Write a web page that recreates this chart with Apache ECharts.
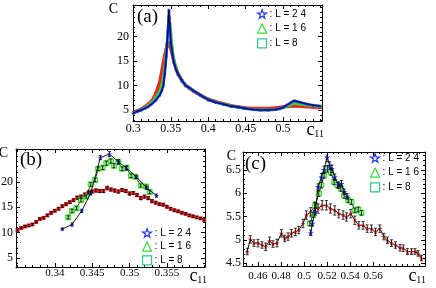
<!DOCTYPE html>
<html><head><meta charset="utf-8">
<script src="https://cdn.jsdelivr.net/npm/echarts@6/dist/echarts.min.js"></script>
<style>html,body{margin:0;padding:0;background:#fff}#c{width:436px;height:288px}</style>
</head><body><div id="c"></div>
<script>
// ---------- Panel (a) ----------
const A_X = [0.300,0.305,0.310,0.315,0.320,0.325,0.330,0.335,0.338,0.340,0.342,0.344,0.345,0.346,0.347,0.3475,0.348,0.349,0.350,0.352,0.354,0.357,0.360,0.365,0.370,0.375,0.380,0.390,0.400,0.410,0.420,0.430,0.440,0.450,0.460,0.470,0.480,0.490,0.495,0.500,0.505,0.510,0.515,0.520,0.525,0.530,0.540,0.550];
const A_C24 = [4.4,4.7,5.0,5.3,5.7,6.3,7.0,8.0,9.0,10.0,12.5,16.0,18.5,21.0,24.0,25.5,24.0,21.5,19.0,16.5,14.8,13.3,12.3,11.0,10.0,9.5,9.0,8.0,7.1,6.6,6.2,5.8,5.6,5.3,5.1,5.0,5.0,5.1,5.3,5.5,6.0,6.5,6.9,6.7,6.5,6.3,6.0,5.8];
const A_C16 = [4.4,4.7,5.0,5.4,5.9,6.6,7.5,8.8,10.0,11.5,13.8,16.8,18.5,20.3,22.5,23.3,23.6,22.5,20.5,17.5,15.2,13.4,12.3,11.0,10.0,9.5,9.0,8.0,7.1,6.6,6.2,5.8,5.6,5.3,5.1,5.0,5.0,5.1,5.25,5.5,5.8,6.1,6.4,6.3,6.2,6.1,5.9,5.7];
const A_C8 = [4.5,4.8,5.1,5.6,6.2,6.9,8.3,10.5,12.8,14.5,16.2,17.5,18.0,18.4,18.7,18.7,18.5,18.2,17.8,16.5,15.0,13.5,12.3,11.0,10.0,9.5,8.9,8.0,7.2,6.7,6.3,5.9,5.6,5.4,5.3,5.3,5.3,5.4,5.5,5.6,5.7,5.8,5.85,5.8,5.75,5.7,5.6,5.5];
const A_XTICKS = [0.3,0.35,0.4,0.45,0.5];
const A_XLABELS = ['0.3','0.35','0.4','0.45','0.5'];
const A_YTICKS = [5,10,15,20];
const A_YLABELS = ['5','10','15','20'];

// ---------- Panel (b) ----------
const B_X8 = [0.3350,0.3355,0.3360,0.3365,0.3370,0.3375,0.3380,0.3385,0.3390,0.3395,0.3400,0.3405,0.3410,0.3415,0.3420,0.3425,0.3430,0.3435,0.3440,0.3445,0.3450,0.3455,0.3460,0.3465,0.3470,0.3475,0.3480,0.3485,0.3490,0.3495,0.3500,0.3505,0.3510,0.3515,0.3520,0.3525,0.3530,0.3535,0.3540,0.3545,0.3550,0.3555,0.3560,0.3565,0.3570,0.3575,0.3580,0.3585,0.3590,0.3595,0.3600];
const B_C8 = [10.5,10.9,11.2,11.4,11.6,12.1,12.7,12.9,13.4,13.9,14.3,14.7,15.2,15.6,16.0,16.4,16.9,17.1,17.5,17.9,18.1,18.3,18.2,18.2,18.8,18.5,18.3,18.1,18.4,18.2,17.7,17.8,17.4,16.8,17.1,16.8,16.2,15.9,15.6,15.5,15.1,14.7,14.4,14.2,13.9,13.7,13.4,13.2,13.0,12.8,12.5];
const B_E8 = [0.2,0.2,0.2,0.2,0.2,0.2,0.2,0.2,0.2,0.25,0.25,0.25,0.25,0.25,0.25,0.25,0.3,0.3,0.3,0.3,0.3,0.3,0.3,0.3,0.35,0.3,0.3,0.3,0.3,0.3,0.3,0.3,0.3,0.3,0.3,0.3,0.3,0.25,0.25,0.25,0.25,0.25,0.25,0.2,0.2,0.2,0.2,0.2,0.2,0.2,0.2];
const B_X16 = [0.3418,0.3423,0.3429,0.3435,0.3442,0.3448,0.3454,0.3458,0.3464,0.3469,0.3475,0.3479,0.3485,0.3490,0.3496,0.3502,0.3508,0.3515,0.3522,0.3527];
const B_C16 = [13.0,14.3,14.8,16.4,17.1,19.5,20.4,22.6,22.8,23.7,24.1,23.2,23.9,22.6,22.8,21.2,21.0,19.3,19.1,18.0];
const B_E16 = [0.3,0.3,0.3,0.3,0.3,0.35,0.35,0.35,0.35,0.4,0.4,0.4,0.4,0.35,0.35,0.35,0.3,0.3,0.3,0.3];
const B_X24 = [0.3410,0.3423,0.3436,0.3448,0.3461,0.3473,0.3485,0.3496,0.3509,0.3523,0.3536];
const B_C24 = [10.7,11.6,14.3,17.8,24.8,25.5,24.0,22.7,21.0,18.8,17.3];
const B_E24 = [0.2,0.3,0.3,0.4,0.4,0.5,0.4,0.4,0.3,0.3,0.3];
const B_XTICKS = [0.34,0.345,0.35,0.355];
const B_XLABELS = ['0.34','0.345','0.35','0.355'];
const B_YTICKS = [5,10,15,20];
const B_YLABELS = ['5','10','15','20'];

// ---------- Panel (c) ----------
const C_X8 = [0.4507,0.4533,0.4565,0.4600,0.4635,0.4667,0.4701,0.4730,0.4765,0.4803,0.4832,0.4861,0.4890,0.4925,0.4954,0.4991,0.5020,0.5058,0.5093,0.5122,0.5157,0.5194,0.5229,0.5267,0.5302,0.5339,0.5368,0.5406,0.5441,0.5476,0.5513,0.5548,0.5585,0.5620,0.5658,0.5693,0.5724,0.5759,0.5794,0.5833,0.5861,0.5898,0.5933,0.5963,0.5990,0.6019];
const C_C8 = [4.75,5.01,4.93,4.93,4.89,4.85,4.98,4.91,4.93,5.14,5.03,5.07,5.14,5.17,5.21,5.35,5.53,5.60,5.72,5.67,5.74,5.74,5.67,5.63,5.56,5.53,5.49,5.56,5.42,5.31,5.31,5.24,5.24,5.17,5.24,5.07,4.99,4.93,4.89,4.83,4.82,4.75,4.75,4.75,4.71,4.61];
const C_E8 = [0.07,0.08,0.07,0.08,0.07,0.08,0.08,0.07,0.08,0.08,0.07,0.08,0.08,0.08,0.08,0.09,0.09,0.09,0.09,0.1,0.1,0.1,0.1,0.1,0.09,0.09,0.09,0.09,0.09,0.08,0.08,0.08,0.08,0.08,0.08,0.07,0.07,0.07,0.07,0.07,0.07,0.06,0.06,0.06,0.06,0.06];
const C_X16 = [0.5050,0.5078,0.5098,0.5128,0.5150,0.5174,0.5203,0.5232,0.5261,0.5290,0.5319,0.5348,0.5383,0.5411,0.5441,0.5470,0.5498];
const C_C16 = [5.35,5.53,5.74,5.99,6.17,6.38,6.52,6.45,6.24,6.17,6.10,5.95,5.85,5.81,5.63,5.65,5.58];
const C_E16 = [0.05,0.05,0.05,0.06,0.06,0.06,0.07,0.07,0.06,0.06,0.06,0.06,0.05,0.05,0.05,0.05,0.05];
const C_X24 = [0.5058,0.5072,0.5098,0.5122,0.5150,0.5174,0.5200,0.5223,0.5243,0.5267,0.5302,0.5324,0.5348,0.5374];
const C_C24 = [5.15,5.35,5.60,6.13,6.34,6.50,6.77,6.59,6.52,6.34,6.17,6.20,6.03,5.93];
const C_E24 = [0.06,0.06,0.07,0.07,0.08,0.08,0.1,0.08,0.08,0.07,0.07,0.07,0.06,0.06];
const C_XTICKS = [0.46,0.48,0.5,0.52,0.54,0.56];
const C_XLABELS = ['0.46','0.48','0.5','0.52','0.54','0.56'];
const C_YTICKS = [4.5,5,5.5,6,6.5];
const C_YLABELS = ['4.5','5','5.5','6','6.5'];

const LEGEND_NAMES = ['L24','L16','L8'];
const LEGEND_TEXT = {L24:': L = 2 4', L16:': L = 1 6', L8:': L = 8'};

// ---------- styling ----------
const SERIF = 'Liberation Serif';
const SANS = 'Liberation Sans';
const RED = '#ee2222', GREEN = '#33dd22', BLUE = '#1f2fff';
const STAR = 'path://M50,0L61,35L98,35L68,57L79,91L50,70L21,91L32,57L2,35L39,35Z';

function zip(xs, ys) { return xs.map((x, i) => [x, ys[i]]); }
function zip3(xs, ys, es) { return xs.map((x, i) => [x, ys[i], es[i]]); }
function steps(a, b, s) { const r = []; for (let v = a; v <= b + s * 1e-6; v += s) r.push(+v.toFixed(6)); return r; }
function fmt(ticks, labels) { return v => { const i = ticks.findIndex(t => Math.abs(t - v) < 1e-9); return i >= 0 ? labels[i] : ''; }; }

function makeAxes(dim, g, min, max, ticks, labels, minors, o) {
  const base = {type: 'value', gridIndex: g, min: min, max: max, splitLine: {show: false}, scale: true};
  const line = {show: true, onZero: false, lineStyle: {color: '#000', width: 1}};
  const tick = (vals, len) => ({show: true, inside: true, length: len, customValues: vals, lineStyle: {color: '#000', width: 1}});
  const p1 = dim === 'x' ? 'bottom' : 'left', p2 = dim === 'x' ? 'top' : 'right';
  const main = Object.assign({}, base, {
    position: p1, axisLine: line, axisTick: tick(ticks, 4),
    axisLabel: {show: true, customValues: ticks, formatter: fmt(ticks, labels), margin: o.margin,
      fontFamily: SERIF, fontSize: o.fontSize, color: '#000'}
  });
  if (dim === 'x') {
    main.name = '{c|c}{s|11}';
    main.nameLocation = 'end';
    main.nameGap = o.nameGap;
    main.nameTextStyle = {align: 'right', verticalAlign: 'top', padding: o.namePad, color: '#000',
      rich: {c: {fontFamily: SERIF, fontSize: 18, lineHeight: 16, verticalAlign: 'top', color: '#000'},
             s: {fontFamily: SERIF, fontSize: 10, lineHeight: 18, verticalAlign: 'bottom', color: '#000'}}};
  } else {
    main.name = 'C';
    main.nameLocation = 'end';
    main.nameGap = o.nameGap;
    main.nameTextStyle = {fontFamily: SERIF, fontSize: 14, color: '#000', align: 'right', verticalAlign: 'top', padding: o.namePad};
  }
  const opp = Object.assign({}, base, {position: p2, axisLine: line, axisTick: tick(ticks, 4), axisLabel: {show: false}});
  const m1 = Object.assign({}, base, {position: p1, axisLine: {show: false}, axisTick: tick(minors, 2), axisLabel: {show: false}});
  const m2 = Object.assign({}, base, {position: p2, axisLine: {show: false}, axisTick: tick(minors, 2), axisLabel: {show: false}});
  return [main, opp, m1, m2];
}

function errRender(params, api) {
  const x = api.value(0), y = api.value(1), e = api.value(2);
  const lo = api.coord([x, y - e]), hi = api.coord([x, y + e]);
  const w = 1.5, st = {stroke: '#000', lineWidth: 0.8};
  return {type: 'group', children: [
    {type: 'line', shape: {x1: lo[0], y1: lo[1], x2: hi[0], y2: hi[1]}, style: st},
    {type: 'line', shape: {x1: lo[0] - w, y1: lo[1], x2: lo[0] + w, y2: lo[1]}, style: st},
    {type: 'line', shape: {x1: hi[0] - w, y1: hi[1], x2: hi[0] + w, y2: hi[1]}, style: st}
  ]};
}

function errSeries(g, xs, ys, es) {
  return {type: 'custom', name: 'err', xAxisIndex: 4 * g, yAxisIndex: 4 * g, renderItem: errRender,
    data: zip3(xs, ys, es), encode: {x: 0, y: 1}, z: 5, clip: true, silent: true};
}

function legendFor(left, top, gap) {
  return {
    left: left, top: top, orient: 'vertical', itemWidth: 9, itemHeight: 9, itemGap: gap, selectedMode: false,
    padding: 0, textStyle: {fontFamily: SANS, fontSize: 10, color: '#000', padding: [0, 0, 0, -2]},
    formatter: n => LEGEND_TEXT[n],
    data: [
      {name: 'L24', icon: STAR, itemStyle: {color: 'rgba(0,0,0,0)', borderColor: '#2233ee', borderWidth: 1.2}},
      {name: 'L16', icon: 'triangle', itemStyle: {color: 'rgba(0,0,0,0)', borderColor: '#33dd33', borderWidth: 1.2}},
      {name: 'L8', icon: 'rect', itemStyle: {color: 'rgba(0,0,0,0)', borderColor: '#33c39b', borderWidth: 1.2}}
    ]
  };
}

const xAxes = [].concat(
  makeAxes('x', 0, 0.2995, 0.552, A_XTICKS, A_XLABELS, steps(0.30, 0.55, 0.01), {margin: 2, fontSize: 12, nameGap: 2, namePad: [0, 0, 0, 0]}),
  makeAxes('x', 1, 0.3348, 0.3601, B_XTICKS, B_XLABELS, steps(0.335, 0.360, 0.001), {margin: 1, fontSize: 11, nameGap: 2, namePad: [0, 0, 0, 0]}),
  makeAxes('x', 2, 0.447, 0.605, C_XTICKS, C_XLABELS, steps(0.450, 0.605, 0.005), {margin: 5, fontSize: 11, nameGap: 1, namePad: [1, 0, 0, 0]})
);
const yAxes = [].concat(
  makeAxes('y', 0, 2.75, 26.5, A_YTICKS, A_YLABELS, steps(3, 26, 1), {margin: 4, fontSize: 12, nameGap: 3, namePad: [0, 15, 0, 0]}),
  makeAxes('y', 1, 3.2, 26.5, B_YTICKS, B_YLABELS, steps(4, 26, 1), {margin: 3, fontSize: 12, nameGap: 3, namePad: [0, 8, 0, 0]}),
  makeAxes('y', 2, 4.44, 6.88, C_YTICKS, C_YLABELS, steps(4.5, 6.8, 0.1), {margin: 2, fontSize: 12, nameGap: 3, namePad: [0, 7, 0, 0]})
);

const series = [
  // panel (a)
  {type: 'line', name: 'L8', xAxisIndex: 0, yAxisIndex: 0, data: zip(A_X, A_C8), showAllSymbol: true,
   symbol: 'rect', symbolSize: 3, itemStyle: {color: RED}, lineStyle: {color: RED, width: 3.5}, z: 2},
  {type: 'line', name: 'L16', xAxisIndex: 0, yAxisIndex: 0, data: zip(A_X, A_C16), showAllSymbol: true,
   symbol: 'rect', symbolSize: 3, itemStyle: {color: GREEN}, lineStyle: {color: GREEN, width: 3}, z: 3},
  {type: 'line', name: 'L24', xAxisIndex: 0, yAxisIndex: 0, data: zip(A_X, A_C24), showAllSymbol: true,
   symbol: STAR, symbolSize: 4, itemStyle: {color: BLUE}, lineStyle: {color: BLUE, width: 2.5}, z: 4},
  {type: 'line', name: 'line24a', xAxisIndex: 0, yAxisIndex: 0, data: zip(A_X, A_C24), symbol: 'none',
   lineStyle: {color: '#000', width: 0.8}, z: 5},
  // panel (b)
  {type: 'line', name: 'L8', xAxisIndex: 4, yAxisIndex: 4, data: zip(B_X8, B_C8), showAllSymbol: true,
   symbol: 'rect', symbolSize: 4, itemStyle: {color: RED}, lineStyle: {color: '#555', width: 0.6}, z: 2},
  {type: 'line', name: 'L16', xAxisIndex: 4, yAxisIndex: 4, data: zip(B_X16, B_C16), showAllSymbol: true,
   symbol: 'rect', symbolSize: 5, itemStyle: {color: '#a8f0a0', borderColor: GREEN, borderWidth: 1}, lineStyle: {color: '#000', width: 0.8}, z: 3},
  {type: 'line', name: 'L24', xAxisIndex: 4, yAxisIndex: 4, data: zip(B_X24, B_C24), showAllSymbol: true,
   symbol: STAR, symbolSize: 5, itemStyle: {color: BLUE}, lineStyle: {color: '#000', width: 0.9}, z: 4},
  errSeries(1, B_X8, B_C8, B_E8), errSeries(1, B_X16, B_C16, B_E16), errSeries(1, B_X24, B_C24, B_E24),
  // panel (c)
  {type: 'line', name: 'L8', xAxisIndex: 8, yAxisIndex: 8, data: zip(C_X8, C_C8), showAllSymbol: true,
   symbol: STAR, symbolSize: 5, itemStyle: {color: RED}, lineStyle: {color: '#000', width: 0.9}, z: 2},
  {type: 'line', name: 'L16', xAxisIndex: 8, yAxisIndex: 8, data: zip(C_X16, C_C16), showAllSymbol: true,
   symbol: 'rect', symbolSize: 5, itemStyle: {color: '#a8f0a0', borderColor: GREEN, borderWidth: 1}, lineStyle: {color: '#000', width: 0.9}, z: 3},
  {type: 'line', name: 'L24', xAxisIndex: 8, yAxisIndex: 8, data: zip(C_X24, C_C24), showAllSymbol: true,
   symbol: STAR, symbolSize: 6, itemStyle: {color: BLUE}, lineStyle: {color: '#000', width: 0.9}, z: 4},
  errSeries(2, C_X8, C_C8, C_E8), errSeries(2, C_X16, C_C16, C_E16), errSeries(2, C_X24, C_C24, C_E24)
];

const chart = echarts.init(document.getElementById('c'), null, {renderer: 'canvas'});
chart.setOption({
  animation: false,
  backgroundColor: '#fff',
  title: [
    {text: '(a)', left: 137, top: 8, padding: 0, textStyle: {fontFamily: SERIF, fontSize: 19, fontWeight: 'normal', color: '#000'}},
    {text: '(b)', left: 20, top: 151, padding: 0, textStyle: {fontFamily: SERIF, fontSize: 19, fontWeight: 'normal', color: '#000'}},
    {text: '(c)', left: 245, top: 155, padding: 0, textStyle: {fontFamily: SERIF, fontSize: 19, fontWeight: 'normal', color: '#000'}}
  ],
  legend: [legendFor(257, 9, 4.5), legendFor(142, 228, 3.5), legendFor(370, 153, 4.5)],
  grid: [
    {left: 133, top: 5, width: 189, height: 116, outerBoundsMode: 'none'},
    {left: 16, top: 149, width: 189, height: 118, outerBoundsMode: 'none'},
    {left: 243, top: 152, width: 182, height: 114, outerBoundsMode: 'none'}
  ],
  xAxis: xAxes,
  yAxis: yAxes,
  series: series
});
</script></body></html>
